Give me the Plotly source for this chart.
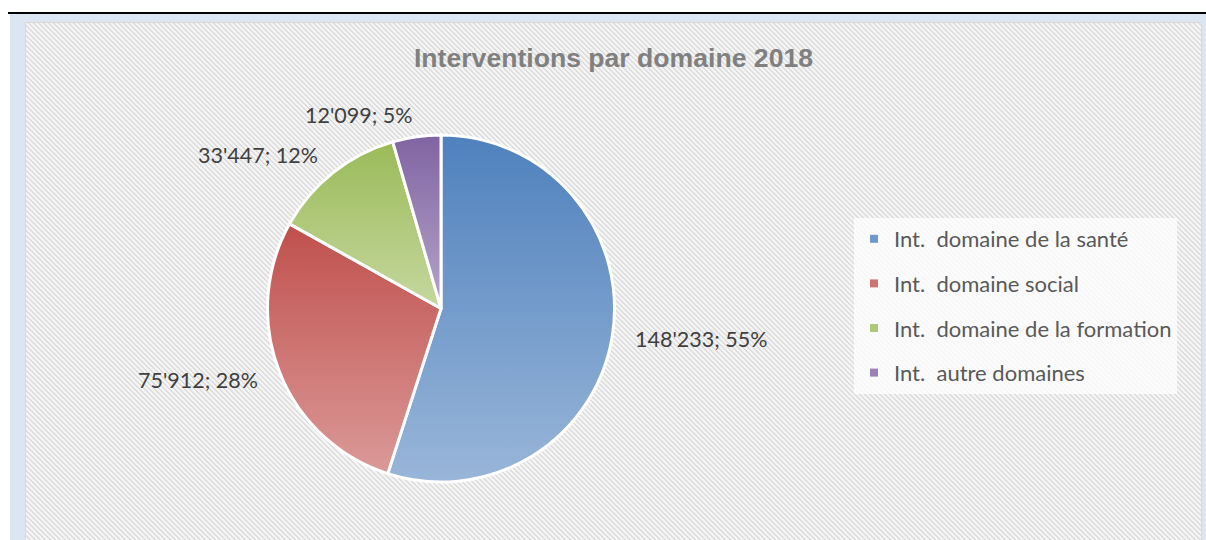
import math
import base64
import plotly.graph_objects as go

# ---- data ----
categories = ["Int.  domaine de la santé", "Int.  domaine social",
              "Int.  domaine de la formation", "Int.  autre domaines"]
values = [148233, 75912, 33447, 12099]
pct_labels = ["55%", "28%", "12%", "5%"]
title_text = "Interventions par domaine 2018"

# ---- style ----
W, H = 1206, 540
base_colors = ["#4F81BD", "#C0504D", "#9BBB59", "#8064A2"]
mid_colors = ["#7298C9", "#CC7471", "#AFC979", "#9982B4"]
cx, cy, R = 441.0, 308.5, 173.5
LABEL_GAP = 22
label_font = dict(family="Lato, Carlito, Calibri, sans-serif", size=21.5, color="#404040")

# background SVG (frame + hatched chart area)
hatch_rects = []
P = 5
for yy in range(P):
    for k in range(2):
        xx = (yy + k) % P
        hatch_rects.append(f'<rect x="{xx}" y="{yy}" width="1" height="1" fill="#dddddd"/>')
bg_svg = f'''<svg xmlns="http://www.w3.org/2000/svg" width="{W}" height="{H}" viewBox="0 0 {W} {H}" shape-rendering="crispEdges">
<defs><pattern id="h" patternUnits="userSpaceOnUse" width="{P}" height="{P}">
<rect x="0" y="0" width="{P}" height="{P}" fill="#f4f4f4"/>{''.join(hatch_rects)}</pattern></defs>
<rect x="0" y="0" width="{W}" height="{H}" fill="#ffffff"/>
<rect x="8" y="12" width="{W-8}" height="2" fill="#000000"/>
<rect x="10" y="14" width="{W-10}" height="{H-14}" fill="#DCE6F2"/>
<rect x="25" y="22" width="1176" height="{H-22+5}" fill="url(#h)" stroke="#d9d9d9" stroke-width="1"/>
</svg>'''

# gradient overlay per slice (light toward bottom) + label anchors, geometry from the data
total = sum(values)
paths = []
annotations = []
acc = 0.0
for v, p in zip(values, pct_labels):
    a0 = acc / total * 2 * math.pi
    acc += v
    a1 = acc / total * 2 * math.pi
    x0, y0 = cx + R * math.sin(a0), cy - R * math.cos(a0)
    x1, y1 = cx + R * math.sin(a1), cy - R * math.cos(a1)
    large = 1 if (a1 - a0) > math.pi else 0
    paths.append(f'<path d="M{cx},{cy} L{x0:.2f},{y0:.2f} A{R},{R} 0 {large} 1 {x1:.2f},{y1:.2f} Z" fill="url(#g)"/>')
    am = (a0 + a1) / 2
    lx = cx + (R + LABEL_GAP) * math.sin(am)
    ly = cy - (R + LABEL_GAP) * math.cos(am)
    annotations.append(dict(
        text=f"{v:,}".replace(",", "'") + "; " + p,
        x=lx / W, y=1 - ly / H, xref="paper", yref="paper",
        xanchor="left" if math.sin(am) > 0 else "right",
        yanchor="middle",
        showarrow=False, borderpad=0, font=label_font,
    ))
ov_svg = f'''<svg xmlns="http://www.w3.org/2000/svg" width="{W}" height="{H}" viewBox="0 0 {W} {H}">
<defs><linearGradient id="g" x1="0" y1="0" x2="0" y2="1">
<stop offset="0" stop-color="#ffffff" stop-opacity="0"/>
<stop offset="1" stop-color="#ffffff" stop-opacity="0.42"/></linearGradient></defs>
{''.join(paths)}</svg>'''


def uri(s):
    return "data:image/svg+xml;base64," + base64.b64encode(s.encode()).decode()


fig = go.Figure()
fig.add_trace(go.Pie(
    labels=categories, values=values, customdata=pct_labels,
    sort=False, direction="clockwise", rotation=0,
    marker=dict(colors=base_colors, line=dict(color="#ffffff", width=3)),
    textinfo="none",
    domain=dict(x=[(cx - R) / W, (cx + R) / W], y=[1 - (cy + R) / H, 1 - (cy - R) / H]),
    showlegend=False, hoverinfo="label+value+percent",
))
for name, col in zip(categories, mid_colors):
    fig.add_trace(go.Scatter(
        x=[None], y=[None], mode="markers", name=name, legendgroup=name,
        marker=dict(symbol="square", size=8, color=col), showlegend=True,
    ))

fig.update_layout(
    width=W, height=H,
    margin=dict(l=0, r=0, t=0, b=0),
    paper_bgcolor="rgba(0,0,0,0)", plot_bgcolor="rgba(0,0,0,0)",
    separators=".'",
    xaxis=dict(visible=False), yaxis=dict(visible=False),
    title=dict(text=title_text, x=613.5 / W, xanchor="center", y=1 - 58 / H, yanchor="middle",
               font=dict(family="Liberation Sans, Arial, sans-serif", size=26.6, color="#808080", weight="bold")),
    legend=dict(x=854 / W, y=1 - 218 / H, xanchor="left", yanchor="top",
                bgcolor="rgba(255,255,255,0.75)", tracegroupgap=13,
                font=dict(family="Lato, Carlito, Calibri, sans-serif", size=22, color="#595959")),
    annotations=annotations,
    images=[
        dict(source=uri(bg_svg), xref="paper", yref="paper", x=0, y=1, sizex=1, sizey=1,
             xanchor="left", yanchor="top", sizing="stretch", layer="below"),
        dict(source=uri(ov_svg), xref="paper", yref="paper", x=0, y=1, sizex=1, sizey=1,
             xanchor="left", yanchor="top", sizing="stretch", layer="above"),
    ],
)
fig.write_html("out.html", config={"displayModeBar": False},
               post_script="document.body.style.margin='0';document.body.style.overflow='hidden';")
